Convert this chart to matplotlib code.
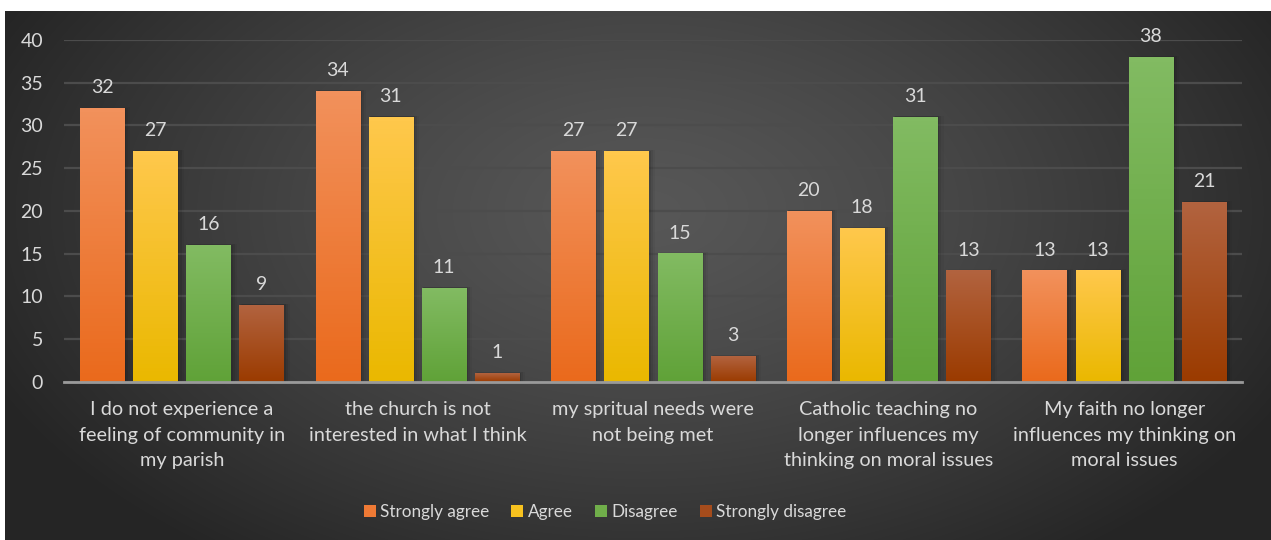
import numpy as np
import matplotlib
matplotlib.use('Agg')
import matplotlib.pyplot as plt
from matplotlib.patches import Patch
from matplotlib.colors import to_rgb

categories = ['I do not experience a\nfeeling of community in\nmy parish',
              'the church is not\ninterested in what I think',
              'my spritual needs were\nnot being met',
              'Catholic teaching no\nlonger influences my\nthinking on moral issues',
              'My faith no longer\ninfluences my thinking on\nmoral issues']
series = ['Strongly agree', 'Agree', 'Disagree', 'Strongly disagree']
strongly_agree = [32, 34, 27, 20, 13]
agree = [27, 31, 27, 18, 13]
disagree = [16, 11, 15, 31, 38]
strongly_disagree = [9, 1, 3, 13, 21]
yticks = [0, 5, 10, 15, 20, 25, 30, 35, 40]

values = [strongly_agree, agree, disagree, strongly_disagree]
# (top colour, bottom colour) of each bar gradient
grads = [('#f2915c', '#ea6a1c'),
         ('#ffc84c', '#eab800'),
         ('#82bb62', '#60a238'),
         ('#b2633f', '#9b3b00')]
mids = ['#ef7a35', '#f7c21f', '#70ae4a', '#a54c1c']
txt = '#d9d9d9'

plt.rcParams['font.family'] = ['Lato', 'DejaVu Sans']

fig = plt.figure(figsize=(12.71, 5.40), dpi=100)
fig.patch.set_facecolor('white')

# dark radial background
bg = fig.add_axes([5/1271, 0, 1 - 5/1271, 1 - 11/540])
bg.set_axis_off()
h, w = 529, 1266
yy, xx = np.mgrid[0:h, 0:w]
r = np.sqrt(((xx - 640) / 720.0) ** 2 + ((yy - 200) / 430.0) ** 2)
r = np.clip(r, 0, 1)
v = (0x57 - (0x57 - 0x25) * r ** 1.3) / 255.0
bg.imshow(np.dstack([v, v, v]), aspect='auto', extent=[0, 1, 0, 1])
bg.set_xlim(0, 1)
bg.set_ylim(0, 1)

ax = fig.add_axes([64/1271, (540-381.7)/540, (1242-64)/1271, (381.7-40)/540])
ax.patch.set_alpha(0)

x = np.arange(len(categories))
step = 0.2255
width = 0.187
for i, vals in enumerate(values):
    pos = x + (i - 1.5) * step
    bars = ax.bar(pos, vals, width, color=mids[i], zorder=3, label=series[i])
    top, bot = np.array(to_rgb(grads[i][0])), np.array(to_rgb(grads[i][1]))
    t = np.linspace(0, 1, 64)[:, None]
    grad = (top * (1 - t) + bot * t)[:, None, :]
    for b, val in zip(bars, vals):
        bx, bw, bh = b.get_x(), b.get_width(), b.get_height()
        # soft shadow
        for k, a in enumerate([0.10, 0.07, 0.04]):
            d = 0.006 * (k + 1)
            ax.add_patch(plt.Rectangle((bx + d * 0.5, 0), bw + d, bh + d * 8,
                                       color='black', alpha=a, zorder=2, lw=0))
        ax.imshow(grad, extent=[bx, bx + bw, 0, bh], aspect='auto', zorder=4)
        ax.text(bx + bw / 2, bh + 1.4, str(val), ha='center', va='bottom',
                color=txt, fontsize=14, zorder=5, clip_on=False)

ax.set_xlim(-0.5, len(categories) - 0.5)
ax.set_ylim(0, 40)
ax.set_yticks(yticks)
ax.set_xticks(x)
ax.set_xticklabels(categories, linespacing=1.6, fontsize=14.3)
ax.tick_params(axis='both', length=0, colors=txt)
ax.tick_params(axis='y', labelsize=14, pad=15)
ax.tick_params(axis='x', pad=14)
ax.grid(axis='y', color='#4c4c4c', linewidth=1.6, zorder=0)
for s in ['top', 'right', 'left']:
    ax.spines[s].set_visible(False)
ax.spines['bottom'].set_color('#9a9a9a')
ax.spines['bottom'].set_linewidth(2)
ax.spines['bottom'].set_zorder(6)

handles = [Patch(facecolor=mids[i], label=series[i]) for i in range(4)]
fig.legend(handles=handles, loc='center', bbox_to_anchor=(0.476, 0.052), ncol=4,
           frameon=False, fontsize=12.3, labelcolor=txt, handlelength=0.7,
           handleheight=0.7, handletextpad=0.25, columnspacing=1.3)

fig.savefig('out.png', dpi=100, facecolor='white')
